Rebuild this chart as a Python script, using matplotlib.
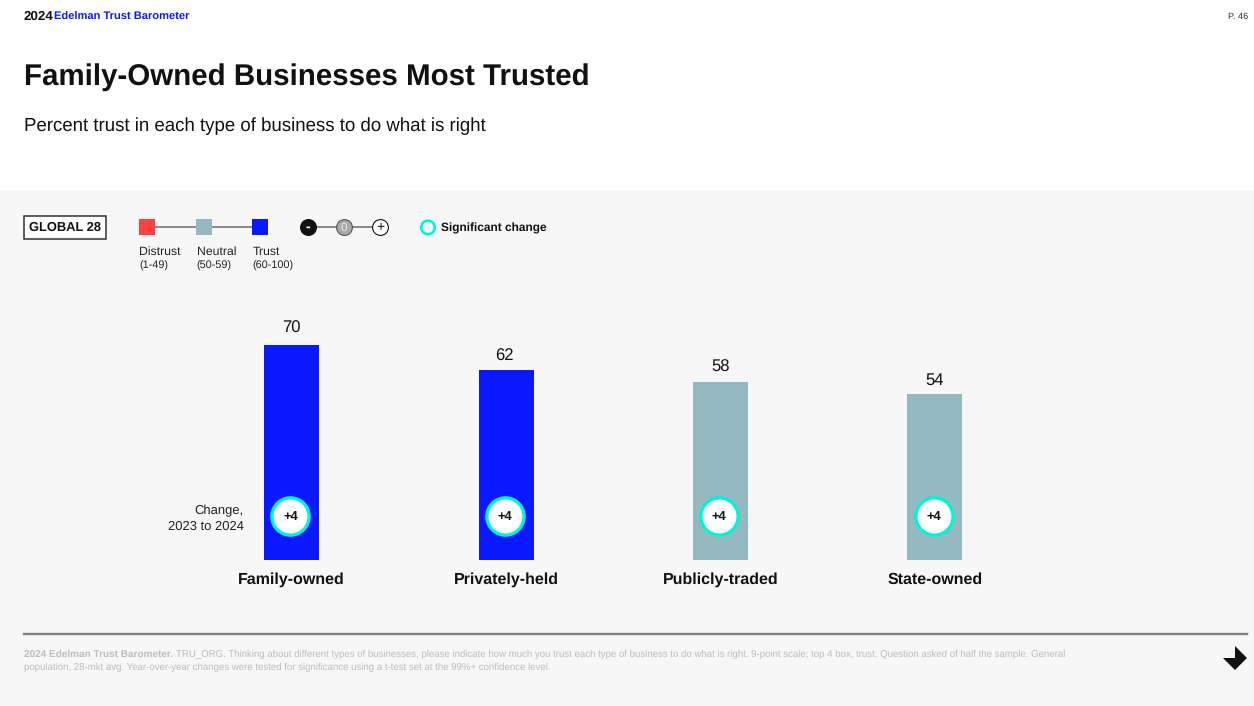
#!/usr/bin/env python3
"""Family-owned businesses trust bars, 2024 Edelman Trust Barometer p. 46."""

import matplotlib

matplotlib.use("Agg")
import matplotlib.pyplot as plt
from matplotlib.patches import Polygon, Rectangle

plt.rcParams["font.family"] = ["Liberation Sans", "DejaVu Sans"]
plt.rcParams["text.hinting"] = "none"

categories = ["Family-owned", "Privately-held", "Publicly-traded", "State-owned"]
trust = [70, 62, 58, 54]
changes = ["+4", "+4", "+4", "+4"]

legend_names = ["Distrust", "Neutral", "Trust"]
legend_ranges = ["(1-49)", "(50-59)", "(60-100)"]

TRUST_BLUE = "#0a18ff"
NEUTRAL = "#94b9c1"
DISTRUST = "#ff4040"
TEAL = "#00f5d8"
PANEL = "#f7f7f7"
INK = "#111111"


def bar_color(v):
    if v >= 60:
        return TRUST_BLUE
    if v >= 50:
        return NEUTRAL
    return DISTRUST


W, H = 1254, 706
fig = plt.figure(figsize=(W / 100, H / 100), dpi=100, facecolor="white")

# Page furniture lives in an axes measured in pixels
page = fig.add_axes([0, 0, 1, 1], zorder=0)
page.set_xlim(0, W)
page.set_ylim(H, 0)
page.axis("off")
page.add_patch(Rectangle((0, 190), W, 516, color=PANEL, lw=0))

page.text(23.5, 17, "2024", fontsize=9.6, fontweight="bold", color=INK, va="center")
page.text(54, 17, "Edelman Trust Barometer", fontsize=8, fontweight="bold",
          color=TRUST_BLUE, va="center")
page.text(1248, 16.5, "P. 46", fontsize=6.6, color="#333333", ha="right", va="center")
page.text(23.5, 77, "Family-Owned Businesses Most Trusted", fontsize=21.25, fontweight="bold",
          color=INK, va="center")
page.text(23.5, 126.5, "Percent trust in each type of business to do what is right", fontsize=13.4,
          color=INK, va="center")

# Region tag
page.add_patch(Rectangle((24, 215.5), 82, 23, fc="white", ec="#333333", lw=1.1))
page.text(65, 228, "GLOBAL 28", fontsize=9.3, fontweight="bold", color=INK,
          ha="center", va="center")

# Colour scale legend
page.plot([147, 260], [227, 227], color="#777777", lw=1.2, zorder=1)
for x0, c in zip([139, 196, 252], [DISTRUST, NEUTRAL, TRUST_BLUE]):
    page.add_patch(Rectangle((x0, 219), 16, 16, color=c, lw=0, zorder=2))
for x0, name, rng in zip([139.5, 196.5, 252.5], legend_names, legend_ranges):
    page.text(x0, 251.5, name, fontsize=8.8, color="#222222", va="center")
    page.text(x0, 266, rng, fontsize=7.8, color="#222222", va="center")

# Change scale legend
page.plot([308, 380], [227, 227], color="#777777", lw=1.2, zorder=1)
page.scatter([308], [227], s=150, c=INK, zorder=2, lw=0)
page.scatter([344], [227], s=130, c="#a8a8a8", edgecolors="#555555", lw=0.8, zorder=2)
page.scatter([380], [227], s=130, c="white", edgecolors=INK, lw=0.8, zorder=2)
page.text(308, 227, "-", fontsize=10, fontweight="bold", color="white", ha="center",
          va="center", zorder=3)
page.text(344, 227.5, "0", fontsize=8.5, color="#e8e8e8", ha="center", va="center", zorder=3)
page.text(380, 226.5, "+", fontsize=10, color=INK, ha="center", va="center", zorder=3)
page.scatter([428], [227.5], s=95, c="none", edgecolors=TEAL, lw=1.9, zorder=2)
page.text(441, 228.5, "Significant change", fontsize=8.6, fontweight="bold", color=INK, va="center")

page.text(244, 510.5, "Change,", fontsize=9.4, color="#222222", ha="right", va="center")
page.text(244, 526.5, "2023 to 2024", fontsize=9.4, color="#222222", ha="right", va="center")

# Footer
page.plot([24, 1247], [634, 634], color="#808080", lw=1.7)
foot = "#bdbdbd"
page.text(24, 654, "2024 Edelman Trust Barometer.", fontsize=7.2, fontweight="bold",
          color=foot, va="center")
page.text(176, 654,
          "TRU_ORG. Thinking about different types of businesses, please indicate how much "
          "you trust each type of business to do what is right. 9-point scale; top 4 box, "
          "trust. Question asked of half the sample. General",
          fontsize=6.95, color=foot, va="center")
page.text(24, 667,
          "population, 28-mkt avg. Year-over-year changes were tested for significance using "
          "a t-test set at the 99%+ confidence level.",
          fontsize=6.95, color=foot, va="center")
page.add_patch(Polygon([(1235, 646), (1247, 658), (1235, 670), (1223, 658), (1235, 658)],
                       closed=True, color=INK, lw=0))

# Bars
ax = fig.add_axes([184.45 / W, (H - 560) / H, 857.6 / W, 307 / H], zorder=1)
ax.patch.set_alpha(0)
x = list(range(len(categories)))
ax.bar(x, trust, width=0.2565, color=[bar_color(v) for v in trust], lw=0)
ax.set_xlim(-0.5, 3.5)
ax.set_ylim(0, 100)
ax.set_xticks(x, categories, fontsize=11.5, fontweight="bold", color=INK)
ax.set_yticks([])
ax.tick_params(axis="x", length=0, pad=9)
for s in ax.spines.values():
    s.set_visible(False)

label_gaps = [17, 13, 15, 14]
label_shifts = [0, -2, 0, 0]
for i, v in enumerate(trust):
    ax.annotate(str(v), (i, v), xytext=(label_shifts[i], label_gaps[i]), textcoords="offset pixels",
                ha="center", va="center", fontsize=12, color=INK)
    ax.scatter(i - 0.006, 14.3, s=720, c="white", edgecolors=TEAL, lw=2.4, zorder=3)
    ax.text(i - 0.006, 14.1, changes[i], fontsize=9.3, fontweight="bold", color=INK,
            ha="center", va="center", zorder=4)

fig.savefig("out.png", dpi=100, facecolor="white")
